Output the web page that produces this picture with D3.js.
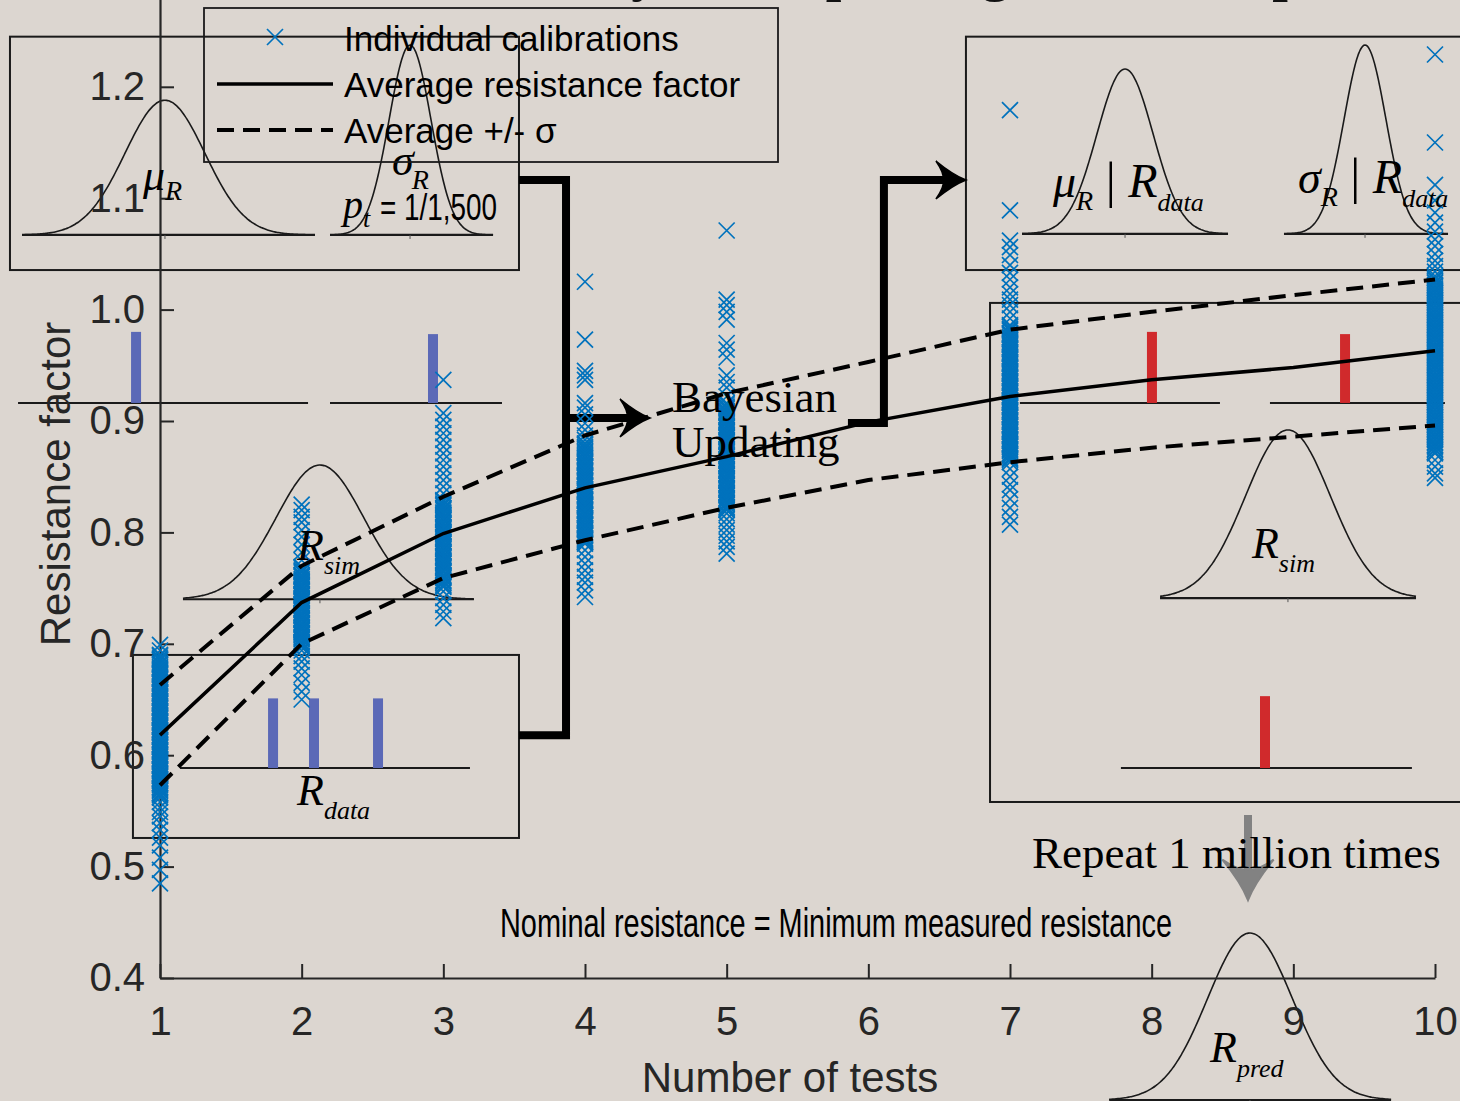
<!DOCTYPE html>
<html><head><meta charset="utf-8">
<script src="https://cdn.jsdelivr.net/npm/d3@7/dist/d3.min.js"></script>
<style>html,body{margin:0;padding:0;background:#dcd6d0;} svg{display:block}</style>
</head><body>
<svg id="chart" width="1460" height="1101"></svg>
<script>
// ---------------- DATA ----------------
const testCounts = [1, 2, 3, 4, 5, 6, 7, 8, 9, 10];
const xTickLabels = ["1", "2", "3", "4", "5", "6", "7", "8", "9", "10"];
const yTickValues = [0.4, 0.5, 0.6, 0.7, 0.8, 0.9, 1.0, 1.1, 1.2];
const yTickLabels = ["0.4", "0.5", "0.6", "0.7", "0.8", "0.9", "1.0", "1.1", "1.2"];

const avgFactor   = [0.618, 0.737, 0.799, 0.840, 0.868, 0.899, 0.922, 0.937, 0.948, 0.963];
const upperFactor = [0.663, 0.770, 0.832, 0.887, 0.925, 0.953, 0.982, 0.998, 1.013, 1.027];
const lowerFactor = [0.573, 0.700, 0.759, 0.793, 0.822, 0.847, 0.863, 0.876, 0.886, 0.896];

const calibTests = [1, 2, 3, 4, 5, 7, 10];
const calib1 = [0.699, 0.694, 0.690, 0.687, 0.685, 0.682, 0.679, 0.677, 0.674, 0.672, 0.669, 0.666, 0.664, 0.661, 0.659, 0.656, 0.653, 0.651, 0.648, 0.646, 0.643, 0.640, 0.638, 0.635, 0.633, 0.630, 0.627, 0.625, 0.622, 0.620, 0.617, 0.614, 0.612, 0.609, 0.607, 0.604, 0.601, 0.599, 0.596, 0.594, 0.591, 0.588, 0.586, 0.583, 0.581, 0.578, 0.575, 0.573, 0.570, 0.568, 0.565, 0.562, 0.558, 0.553, 0.549, 0.545, 0.539, 0.533, 0.526, 0.519, 0.508, 0.497, 0.485,
  0.689, 0.686, 0.683, 0.681, 0.678, 0.675, 0.673, 0.670, 0.668, 0.665, 0.662, 0.660, 0.657, 0.655, 0.652, 0.649, 0.647, 0.644, 0.642, 0.639, 0.636, 0.634, 0.631, 0.629, 0.626, 0.623, 0.621, 0.618, 0.616, 0.613, 0.610, 0.608, 0.605, 0.603, 0.600, 0.597, 0.595, 0.592, 0.590, 0.587, 0.584, 0.582, 0.579, 0.577, 0.574, 0.571, 0.569, 0.566, 0.564];
const calib2 = [0.825, 0.820, 0.814, 0.809, 0.802, 0.796, 0.789, 0.782, 0.775, 0.769, 0.766, 0.764, 0.761, 0.758, 0.756, 0.753, 0.751, 0.748, 0.745, 0.743, 0.740, 0.738, 0.735, 0.732, 0.730, 0.727, 0.725, 0.722, 0.719, 0.717, 0.714, 0.712, 0.709, 0.706, 0.704, 0.701, 0.699, 0.697, 0.694, 0.689, 0.684, 0.678, 0.672, 0.665, 0.657, 0.650,
  0.768, 0.765, 0.762, 0.760, 0.757, 0.754, 0.752, 0.749, 0.747, 0.744, 0.741, 0.739, 0.736, 0.734, 0.731, 0.728, 0.726, 0.723, 0.721, 0.718, 0.715, 0.713, 0.710, 0.708, 0.705, 0.702, 0.700, 0.698];
const calib3 = [0.937, 0.907, 0.901, 0.895, 0.889, 0.883, 0.877, 0.871, 0.865, 0.859, 0.853, 0.847, 0.841, 0.835, 0.829, 0.826, 0.824, 0.821, 0.818, 0.816, 0.813, 0.811, 0.808, 0.805, 0.803, 0.800, 0.798, 0.795, 0.792, 0.790, 0.787, 0.785, 0.782, 0.779, 0.777, 0.774, 0.772, 0.769, 0.766, 0.764, 0.761, 0.759, 0.756, 0.753, 0.751, 0.747, 0.741, 0.735, 0.729, 0.723,
  0.828, 0.825, 0.822, 0.820, 0.817, 0.814, 0.812, 0.809, 0.807, 0.804, 0.801, 0.799, 0.796, 0.794, 0.791, 0.788, 0.786, 0.783, 0.781, 0.778, 0.775, 0.773, 0.770, 0.768, 0.765, 0.762, 0.760, 0.757, 0.755, 0.752];
const calib4 = [1.025, 0.973, 0.945, 0.941, 0.937, 0.916, 0.912, 0.906, 0.898, 0.892, 0.887, 0.883, 0.880, 0.877, 0.875, 0.872, 0.869, 0.867, 0.864, 0.862, 0.859, 0.856, 0.854, 0.851, 0.849, 0.846, 0.843, 0.841, 0.838, 0.836, 0.833, 0.830, 0.828, 0.825, 0.823, 0.820, 0.817, 0.815, 0.812, 0.810, 0.807, 0.804, 0.802, 0.799, 0.797, 0.794, 0.792, 0.790, 0.784, 0.778, 0.772, 0.766, 0.760, 0.755, 0.748, 0.742,
  0.879, 0.876, 0.873, 0.871, 0.868, 0.865, 0.863, 0.860, 0.858, 0.855, 0.852, 0.850, 0.847, 0.845, 0.842, 0.839, 0.837, 0.834, 0.832, 0.829, 0.826, 0.824, 0.821, 0.819, 0.816, 0.813, 0.811, 0.808, 0.806, 0.803, 0.800, 0.798, 0.795, 0.793, 0.791];
const calib5 = [1.071, 1.009, 1.004, 0.998, 0.991, 0.970, 0.964, 0.957, 0.941, 0.935, 0.930, 0.922, 0.916, 0.913, 0.911, 0.908, 0.905, 0.903, 0.900, 0.898, 0.895, 0.892, 0.890, 0.887, 0.885, 0.882, 0.879, 0.877, 0.874, 0.872, 0.869, 0.866, 0.864, 0.861, 0.859, 0.856, 0.853, 0.851, 0.848, 0.846, 0.843, 0.840, 0.838, 0.835, 0.833, 0.830, 0.827, 0.825, 0.822, 0.820, 0.817, 0.812, 0.807, 0.802, 0.797, 0.792, 0.787, 0.781,
  0.915, 0.912, 0.909, 0.907, 0.904, 0.901, 0.899, 0.896, 0.894, 0.891, 0.888, 0.886, 0.883, 0.881, 0.878, 0.875, 0.873, 0.870, 0.868, 0.865, 0.862, 0.860, 0.857, 0.855, 0.852, 0.849, 0.847, 0.844, 0.842, 0.839, 0.836, 0.834, 0.831, 0.829, 0.826, 0.823, 0.821];
const calib7 = [1.179, 1.089, 1.062, 1.056, 1.049, 1.040, 1.033, 1.027, 1.020, 1.014, 1.009, 1.004, 0.998, 0.992, 0.986, 0.983, 0.981, 0.978, 0.975, 0.973, 0.970, 0.968, 0.965, 0.962, 0.960, 0.957, 0.955, 0.952, 0.949, 0.947, 0.944, 0.942, 0.939, 0.936, 0.934, 0.931, 0.929, 0.926, 0.923, 0.921, 0.918, 0.916, 0.913, 0.910, 0.908, 0.905, 0.903, 0.900, 0.897, 0.895, 0.892, 0.890, 0.887, 0.884, 0.882, 0.879, 0.877, 0.874, 0.871, 0.869, 0.866, 0.863, 0.857, 0.850, 0.843, 0.838, 0.830, 0.822, 0.814, 0.807,
  0.985, 0.982, 0.979, 0.977, 0.974, 0.971, 0.969, 0.966, 0.964, 0.961, 0.958, 0.956, 0.953, 0.951, 0.948, 0.945, 0.943, 0.940, 0.938, 0.935, 0.932, 0.930, 0.927, 0.925, 0.922, 0.919, 0.917, 0.914, 0.912, 0.909, 0.906, 0.904, 0.901, 0.899, 0.896, 0.893, 0.891, 0.888, 0.886, 0.883, 0.880, 0.878, 0.875, 0.873, 0.870, 0.867, 0.865];
const calib10 = [1.229, 1.150, 1.112, 1.098, 1.087, 1.078, 1.070, 1.063, 1.057, 1.050, 1.044, 1.039, 1.034, 1.030, 1.027, 1.024, 1.021, 1.018, 1.015, 1.012, 1.009, 1.006, 1.003, 1.000, 0.997, 0.994, 0.991, 0.988, 0.985, 0.982, 0.979, 0.976, 0.973, 0.970, 0.967, 0.964, 0.961, 0.958, 0.955, 0.952, 0.949, 0.946, 0.943, 0.940, 0.937, 0.934, 0.931, 0.928, 0.925, 0.922, 0.919, 0.916, 0.913, 0.910, 0.907, 0.904, 0.901, 0.898, 0.895, 0.892, 0.889, 0.886, 0.883, 0.880, 0.877, 0.874, 0.871, 0.865, 0.859, 0.853, 0.849,
  1.028, 1.025, 1.022, 1.019, 1.016, 1.013, 1.010, 1.007, 1.004, 1.001, 0.998, 0.995, 0.992, 0.989, 0.986, 0.983, 0.980, 0.977, 0.974, 0.971, 0.968, 0.965, 0.962, 0.959, 0.956, 0.953, 0.950, 0.947, 0.944, 0.941, 0.938, 0.935, 0.932, 0.929, 0.926, 0.923, 0.920, 0.917, 0.914, 0.911, 0.908, 0.905, 0.902, 0.899, 0.896, 0.893, 0.890, 0.887, 0.884, 0.881, 0.878, 0.875, 0.872];
const calibSets = [calib1, calib2, calib3, calib4, calib5, calib7, calib10];

const legendLabels = ["Individual calibrations", "Average resistance factor", "Average +/- \u03c3"];

// ---------------- SCHEMATIC ANNOTATIONS (in data units) ----------------
const insetBoxes = [
  {x0: -0.059, x1: 3.534, y0: 1.0355, y1: 1.245},
  {x0: 6.689, x1: 10.40, y0: 1.0355, y1: 1.245},
  {x0: 6.859, x1: 10.40, y0: 0.558, y1: 1.006},
  {x0: 0.809, x1: 3.534, y0: 0.5257, y1: 0.690}
];
const bellCurves = [
  {x0: 0.026, x1: 2.094, c: 1.035, s: 0.282, base: 1.067, peak: 1.188},
  {x0: 2.200, x1: 3.351, c: 2.765, s: 0.148, base: 1.067, peak: 1.2375},
  {x0: 7.085, x1: 8.539, c: 7.812, s: 0.198, base: 1.068, peak: 1.216},
  {x0: 8.934, x1: 10.092, c: 9.506, s: 0.148, base: 1.068, peak: 1.2375},
  {x0: 1.162, x1: 3.216, c: 2.129, s: 0.310, base: 0.740, peak: 0.8605},
  {x0: 8.059, x1: 9.866, c: 8.962, s: 0.300, base: 0.741, peak: 0.892},
  {x0: 7.700, x1: 9.690, c: 8.694, s: 0.300, base: 0.2905, peak: 0.4404}
];
const stemBaselines = [
  {x0: -0.002, x1: 2.045, y: 0.9162},
  {x0: 2.200, x1: 3.414, y: 0.9162},
  {x0: 1.141, x1: 3.188, y: 0.5885},
  {x0: 7.070, x1: 8.482, y: 0.9162},
  {x0: 8.835, x1: 10.070, y: 0.9162},
  {x0: 7.783, x1: 9.837, y: 0.5885}
];
const stemBars = [
  {x: 0.831, base: 0.9162, top: 0.980, kind: "prior"},
  {x: 2.927, base: 0.9162, top: 0.978, kind: "prior"},
  {x: 1.798, base: 0.5885, top: 0.651, kind: "prior"},
  {x: 2.087, base: 0.5885, top: 0.651, kind: "prior"},
  {x: 2.539, base: 0.5885, top: 0.651, kind: "prior"},
  {x: 8.002, base: 0.9162, top: 0.980, kind: "post"},
  {x: 9.365, base: 0.9162, top: 0.978, kind: "post"},
  {x: 8.800, base: 0.5885, top: 0.653, kind: "post"}
];
const connectorBracket = [[3.534, 1.1163], [3.866, 1.1163], [3.866, 0.618], [3.534, 0.618]];
const connectorArrow1 = [[3.866, 0.9027], [4.459, 0.9027]];
const connectorArrow2 = [[5.856, 0.8982], [6.110, 0.8982], [6.110, 1.1163], [6.689, 1.1163]];
const repeatArrow = [[8.680, 0.5463], [8.680, 0.470]];

// ---------------- SETUP ----------------
const W = 1460, H = 1101;
const svg = d3.select("#chart");
const SANS = "'Liberation Sans', Arial, Helvetica, sans-serif";
const NARROW = "'Liberation Sans Narrow', 'Liberation Sans', Arial, sans-serif";
const SERIF = "'Liberation Serif', 'Times New Roman', Times, serif";
const BLUE = "#0072BD", SLATE = "#5B69B7", RED = "#D02A2C", INK = "#262626";

const x = d3.scaleLinear().domain([1, 10]).range([160, 1435]);
const y = d3.scaleLinear().domain([0.4, 1.3]).range([978, 978 - 0.9 * 1114]);

svg.append("rect").attr("width", W).attr("height", H).attr("fill", "#dcd6d0");

// clipped title (only descenders visible)
svg.append("text").attr("x", 566).attr("y", -10)
  .attr("font-family", SERIF).attr("font-weight", "bold").attr("font-size", 56)
  .attr("fill", "#111").text("Bayesian updating the model parameters");

// inset boxes
svg.append("g").selectAll("rect").data(insetBoxes).join("rect")
  .attr("x", d => x(d.x0)).attr("y", d => y(d.y1))
  .attr("width", d => x(d.x1) - x(d.x0)).attr("height", d => y(d.y0) - y(d.y1))
  .attr("fill", "none").attr("stroke", "#1a1a1a").attr("stroke-width", 2);

// stems
const gStem = svg.append("g");
gStem.selectAll("line").data(stemBaselines).join("line")
  .attr("x1", d => x(d.x0)).attr("x2", d => x(d.x1))
  .attr("y1", d => y(d.y)).attr("y2", d => y(d.y))
  .attr("stroke", "#1a1a1a").attr("stroke-width", 2);
gStem.selectAll("rect").data(stemBars).join("rect")
  .attr("x", d => x(d.x) - 5).attr("width", 10)
  .attr("y", d => y(d.top)).attr("height", d => y(d.base) - y(d.top))
  .attr("fill", d => d.kind === "prior" ? SLATE : RED);

// bell curves
const curveLine = d3.line().x(d => x(d[0])).y(d => y(d[1])).curve(d3.curveBasis);
const gBell = svg.append("g");
bellCurves.forEach(c => {
  const pts = d3.range(0, 161).map(i => {
    const xv = c.x0 + (c.x1 - c.x0) * i / 160;
    return [xv, c.base + (c.peak - c.base) * Math.exp(-0.5 * Math.pow((xv - c.c) / c.s, 2))];
  });
  gBell.append("line").attr("x1", x(c.x0)).attr("x2", x(c.x1)).attr("y1", y(c.base)).attr("y2", y(c.base))
    .attr("stroke", "#1a1a1a").attr("stroke-width", 2.2);
  gBell.append("path").attr("d", curveLine(pts)).attr("fill", "none")
    .attr("stroke", "#1a1a1a").attr("stroke-width", 1.6);
  gBell.append("line").attr("x1", x(c.c)).attr("x2", x(c.c)).attr("y1", y(c.base)).attr("y2", y(c.base) + 4)
    .attr("stroke", "#555").attr("stroke-width", 1);
});

// connectors
const pl = d3.line().x(d => x(d[0])).y(d => y(d[1]));
const gConn = svg.append("g").attr("fill", "none").attr("stroke", "#000").attr("stroke-width", 8)
  .attr("stroke-linejoin", "miter");
gConn.append("path").attr("d", pl(connectorBracket));
function arrowHead(g, tipX, tipY, angleDeg, color, scale) {
  g.append("path")
    .attr("d", "M0,0 Q-13,-5 -30,-19 Q-21,-6 -23,0 Q-21,6 -30,19 Q-13,5 0,0 Z")
    .attr("transform", `translate(${tipX},${tipY}) rotate(${angleDeg}) scale(${scale})`)
    .attr("fill", color).attr("stroke", color).attr("stroke-width", 1.5);
}
{
  const a = connectorArrow1;
  gConn.append("line").attr("x1", x(a[0][0])).attr("y1", y(a[0][1]))
    .attr("x2", x(a[1][0]) - 18).attr("y2", y(a[1][1]));
  arrowHead(svg, x(a[1][0]), y(a[1][1]), 0, "#000", 1);
  const b = connectorArrow2;
  const bPts = b.map(p => [x(p[0]), y(p[1])]);
  bPts[bPts.length - 1][0] -= 18;
  gConn.append("path").attr("d", d3.line()(bPts));
  arrowHead(svg, x(b[b.length - 1][0]), y(b[b.length - 1][1]), 0, "#000", 1);
  const r = repeatArrow;
  svg.append("line").attr("x1", x(r[0][0])).attr("x2", x(r[1][0]))
    .attr("y1", y(r[0][1])).attr("y2", y(r[1][1]) - 20)
    .attr("stroke", "#828282").attr("stroke-width", 8);
  arrowHead(svg, x(r[1][0]), y(r[1][1]), 90, "#828282", 1.35);
}

// axes
const gx = svg.append("g").attr("transform", "translate(0,978)")
  .call(d3.axisBottom(x).tickValues(testCounts).tickFormat((d, i) => xTickLabels[i])
    .tickSize(-14).tickSizeOuter(0).tickPadding(29));
const gy = svg.append("g").attr("transform", "translate(160,0)")
  .call(d3.axisLeft(y).tickValues(yTickValues).tickFormat((d, i) => yTickLabels[i])
    .tickSize(-14).tickSizeOuter(0).tickPadding(15));
[gx, gy].forEach(g => {
  g.select(".domain").attr("stroke", INK).attr("stroke-width", 2.2);
  g.selectAll(".tick line").attr("stroke", INK).attr("stroke-width", 2);
  g.selectAll(".tick text").attr("fill", INK).attr("font-family", SANS).attr("font-size", 40);
});

// scatter of individual calibrations
const crossPath = "M-8,-8L8,8M-8,8L8,-8";
const pts = [];
calibSets.forEach((set, i) => set.forEach(v => pts.push({t: calibTests[i], v})));
svg.append("g").selectAll("path").data(pts).join("path")
  .attr("d", crossPath)
  .attr("transform", d => `translate(${x(d.t)},${y(d.v)})`)
  .attr("fill", "none").attr("stroke", BLUE).attr("stroke-width", 1.7);

// average lines
const sl = d3.line().x((d, i) => x(testCounts[i])).y(d => y(d));
svg.append("path").attr("d", sl(avgFactor)).attr("fill", "none").attr("stroke", "#000").attr("stroke-width", 3.5);
[upperFactor, lowerFactor].forEach(arr => {
  svg.append("path").attr("d", sl(arr)).attr("fill", "none").attr("stroke", "#000")
    .attr("stroke-width", 4).attr("stroke-dasharray", "17,9");
});

// math labels
function mathLabel(px, py, parts) {
  const t = svg.append("text").attr("x", px).attr("y", py).attr("font-family", SERIF).attr("fill", "#000");
  parts.forEach(p => {
    const s = t.append("tspan").text(p.t).attr("font-size", p.size)
      .attr("font-style", p.upright ? "normal" : "italic");
    if (p.dy) s.attr("dy", p.dy);
    if (p.dx) s.attr("dx", p.dx);
  });
  return t;
}
mathLabel(x(0.880), y(1.1074), [{t: "\u03bc", size: 44}, {t: "R", size: 28, dy: 10}]);
mathLabel(x(2.638), y(1.1208), [{t: "\u03c3", size: 44}, {t: "R", size: 28, dy: 14, dx: -2}]);
mathLabel(x(2.292), y(1.0822), [{t: "p", size: 40}, {t: "t", size: 26, dy: 9}]);
svg.append("text").attr("x", x(2.553)).attr("y", y(1.0804)).attr("font-family", NARROW)
  .attr("font-size", 36).attr("fill", "#000").attr("textLength", 117).attr("lengthAdjust", "spacingAndGlyphs")
  .text("= 1/1,500");
mathLabel(x(7.303), y(1.101), [{t: "\u03bc", size: 46}, {t: "R", size: 28, dy: 13},
  {t: " | ", size: 50, dy: -13, upright: true}, {t: "R", size: 48}, {t: "data", size: 26, dy: 14}]);
mathLabel(x(9.033), y(1.105), [{t: "\u03c3", size: 46}, {t: "R", size: 28, dy: 13},
  {t: " | ", size: 50, dy: -13, upright: true}, {t: "R", size: 48}, {t: "data", size: 26, dy: 14}]);
mathLabel(x(1.967), y(0.7752), [{t: "R", size: 44}, {t: "sim", size: 26, dy: 14}]);
mathLabel(x(1.967), y(0.5553), [{t: "R", size: 44}, {t: "data", size: 26, dy: 14}]);
mathLabel(x(8.708), y(0.777), [{t: "R", size: 44}, {t: "sim", size: 26, dy: 14}]);
mathLabel(x(8.412), y(0.3246), [{t: "R", size: 44}, {t: "pred", size: 26, dy: 15}]);

// annotation texts
svg.append("text").attr("x", x(4.614)).attr("y", y(0.908)).attr("font-family", SERIF)
  .attr("font-size", 45).attr("fill", "#000").text("Bayesian");
svg.append("text").attr("x", x(4.614)).attr("y", y(0.8677)).attr("font-family", SERIF)
  .attr("font-size", 45).attr("fill", "#000").text("Updating");
svg.append("text").attr("x", x(7.155)).attr("y", y(0.4987)).attr("font-family", SERIF)
  .attr("font-size", 45).attr("fill", "#000").text("Repeat 1 million times");
svg.append("text").attr("x", x(3.400)).attr("y", y(0.4368)).attr("font-family", NARROW)
  .attr("font-size", 40).attr("fill", "#000").attr("textLength", 672).attr("lengthAdjust", "spacingAndGlyphs")
  .text("Nominal resistance = Minimum measured resistance");

// axis titles
svg.append("text").attr("transform", "translate(70,484) rotate(-90)").attr("text-anchor", "middle")
  .attr("font-family", SANS).attr("font-size", 42).attr("fill", INK).text("Resistance factor");
svg.append("text").attr("x", 790).attr("y", 1092).attr("text-anchor", "middle")
  .attr("font-family", SANS).attr("font-size", 42).attr("fill", INK).text("Number of tests");

// legend
const lg = svg.append("g");
lg.append("rect").attr("x", 204).attr("y", 8).attr("width", 574).attr("height", 154)
  .attr("fill", "none").attr("stroke", "#1a1a1a").attr("stroke-width", 1.8);
lg.append("path").attr("d", crossPath).attr("transform", "translate(275,37)")
  .attr("fill", "none").attr("stroke", BLUE).attr("stroke-width", 1.7);
lg.append("line").attr("x1", 217).attr("x2", 333).attr("y1", 84).attr("y2", 84)
  .attr("stroke", "#000").attr("stroke-width", 3.5);
lg.append("line").attr("x1", 217).attr("x2", 333).attr("y1", 130).attr("y2", 130)
  .attr("stroke", "#000").attr("stroke-width", 4).attr("stroke-dasharray", "17,9");
lg.selectAll("text.lab").data(legendLabels).join("text").attr("class", "lab")
  .attr("x", 344).attr("y", (d, i) => 51 + i * 46)
  .attr("font-family", SANS).attr("font-size", 35).attr("fill", "#000").text(d => d);
</script>
</body></html>
